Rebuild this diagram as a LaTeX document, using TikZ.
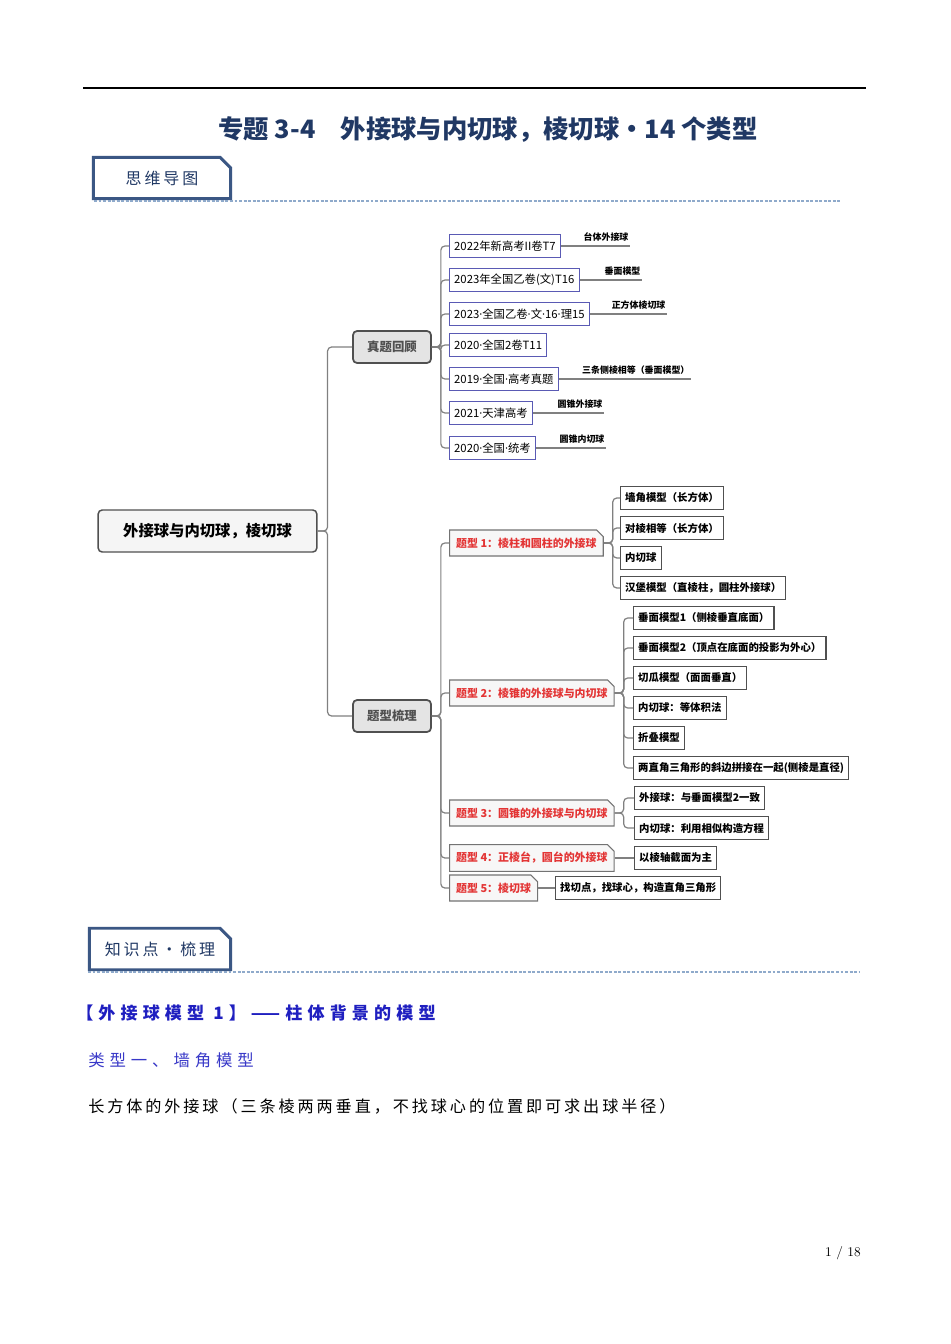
\documentclass[tikz,border=0pt]{standalone}
\usepackage{fontspec}
\newfontfamily\cjk{Noto Sans CJK SC}
\newfontfamily\latn{Noto Sans}
\newfontfamily\cjkwide[LetterSpace=30]{Noto Sans CJK SC}
\newfontfamily\cjkmid[LetterSpace=18]{Noto Sans CJK SC}
\usetikzlibrary{shapes.misc}

\definecolor{navy}{HTML}{203864}
\definecolor{secline}{HTML}{3B5784}
\definecolor{dashblue}{HTML}{8FAACB}
\definecolor{linegray}{HTML}{808080}
\definecolor{boxgray}{HTML}{505050}
\definecolor{rootfill}{HTML}{F5F5F5}
\definecolor{midfill}{HTML}{E4E4E4}
\definecolor{exampurple}{HTML}{5A5AB4}
\definecolor{typered}{HTML}{E33535}
\definecolor{typefill}{HTML}{F7F7F7}
\definecolor{headblue}{HTML}{1F1FC0}
\definecolor{subblue}{HTML}{3838C8}

\newcommand{\md}{{\latn ·}}

\begin{document}
\begin{tikzpicture}[x=0.75pt, y=-0.75pt,
	conn/.style={draw=linegray, line width=0.9pt, rounded corners=3pt},
	secbox/.style={chamfered rectangle, chamfered rectangle corners=north east, chamfered rectangle xsep=4pt, chamfered rectangle ysep=4pt, draw=secline, line width=2.2pt, inner xsep=1pt, inner ysep=6pt, text=navy, font=\cjkmid\fontsize{12}{14}\selectfont},
	secdash/.style={draw=dashblue, line width=0.8pt, dash pattern=on 2.2pt off 1.2pt},
	rootbox/.style={draw=boxgray, line width=1.1pt, rounded corners=3pt, fill=rootfill, minimum width=164pt, minimum height=31.5pt, font=\cjk\bfseries\fontsize{11.5}{12}\selectfont},
	midbox/.style={draw=boxgray, line width=1.3pt, rounded corners=3pt, fill=midfill, minimum width=58.5pt, minimum height=24pt, text=boxgray, font=\cjk\bfseries\fontsize{9.3}{10}\selectfont},
	exambox/.style={draw=exampurple, line width=0.8pt, fill=white, anchor=west, minimum height=17pt, inner xsep=3.5pt, font=\cjk\fontsize{8.5}{9}\selectfont},
	note/.style={anchor=south east, inner sep=1pt, font=\cjk\bfseries\fontsize{6.7}{7}\selectfont},
	typebox/.style={chamfered rectangle, chamfered rectangle corners=north east, chamfered rectangle xsep=2.5pt, chamfered rectangle ysep=2.5pt, draw=boxgray!80, line width=0.8pt, fill=typefill, anchor=west, minimum height=17.5pt, inner xsep=2.5pt, text=typered, font=\cjk\bfseries\fontsize{8.2}{9}\selectfont},
	leafbox/.style={draw=boxgray, line width=0.8pt, fill=white, anchor=west, minimum height=17.5pt, inner xsep=3.5pt, font=\cjk\bfseries\fontsize{7.8}{8}\selectfont}]
	\useasboundingbox[fill=white] (0,0) rectangle (950,1344);

	% page head
	\draw[line width=1.1pt] (83,88) -- (866,88);
	\node[text=navy, font=\cjk\bfseries\fontsize{19}{22}\selectfont] (title) at (488,130) {专题 3-4\quad 外接球与内切球，棱切球・14 个类型};
	\node[secbox, minimum width=103pt] (mapsec) at (162,178) {思维导图};
	\draw[secdash] (94,201) -- (840,201);

	% mind map
	\node[rootbox] (root) at (207.5,531) {外接球与内切球，棱切球};
	\node[midbox] (zt) at (392,347) {真题回顾};
	\node[midbox] (tx) at (392,716) {题型梳理};

	\node[exambox] (q1) at (449,246) {2022年新高考II卷T7};
	\node[exambox] (q2) at (449,280) {2023年全国乙卷(文)T16};
	\node[exambox] (q3) at (449,314) {2023\md 全国乙卷\md 文\md 16\md 理15};
	\node[exambox] (q4) at (449,345) {2020\md 全国2卷T11};
	\node[exambox] (q5) at (449,379) {2019\md 全国\md 高考真题};
	\node[exambox] (q6) at (449,413) {2021\md 天津高考};
	\node[exambox] (q7) at (449,448) {2020\md 全国\md 统考};

	\node[note] (n1) at (630,243) {台体外接球};
	\node[note] (n2) at (642,277) {垂面模型};
	\node[note] (n3) at (667,311) {正方体棱切球};
	\node[note] (n5) at (691,376) {三条侧棱相等（垂面模型）};
	\node[note] (n6) at (604,410) {圆锥外接球};
	\node[note] (n7) at (606,445) {圆锥内切球};

	\node[typebox] (t1) at (449,543) {题型 1：棱柱和圆柱的外接球};
	\node[typebox] (t2) at (449,693) {题型 2：棱锥的外接球与内切球};
	\node[typebox] (t3) at (449,813) {题型 3：圆锥的外接球与内切球};
	\node[typebox] (t4) at (449,858) {题型 4：正棱台，圆台的外接球};
	\node[typebox] (t5) at (449,888) {题型 5：棱切球};

	\node[leafbox] (a1) at (620,498) {墙角模型（长方体）};
	\node[leafbox] (a2) at (620,528) {对棱相等（长方体）};
	\node[leafbox] (a3) at (620,558) {内切球};
	\node[leafbox] (a4) at (620,588) {汉堡模型（直棱柱，圆柱外接球）};
	\node[leafbox] (b1) at (633,618) {垂面模型1（侧棱垂直底面）};
	\node[leafbox] (b2) at (633,648) {垂面模型2（顶点在底面的投影为外心）};
	\node[leafbox] (b3) at (633,678) {切瓜模型（面面垂直）};
	\node[leafbox] (b4) at (633,708) {内切球：等体积法};
	\node[leafbox] (b5) at (633,738) {折叠模型};
	\node[leafbox] (b6) at (633,768) {两直角三角形的斜边拼接在一起(侧棱是直径)};
	\node[leafbox] (c1) at (634,798) {外接球：与垂面模型2一致};
	\node[leafbox] (c2) at (634,828) {内切球：利用相似构造方程};
	\node[leafbox] (d1) at (634,858) {以棱轴截面为主};
	\node[leafbox] (e1) at (555,888) {找切点，找球心，构造直角三角形};

	% connectors
	\foreach \c in {zt,tx} \draw[conn] (root.east) -- ++(10,0) |- (\c.west);
	\foreach \c in {q1,q2,q3,q4,q5,q6,q7} \draw[conn] (zt.east) -- ++(9,0) |- (\c.west);
	\foreach \c/\n in {q1/n1,q2/n2,q3/n3,q5/n5,q6/n6,q7/n7} \draw[conn] (\c.east) -- (\c.east -| \n.south east);
	\foreach \c in {t1,t2,t3,t4,t5} \draw[conn] (tx.east) -- ++(9,0) |- (\c.west);
	\foreach \c in {a1,a2,a3,a4} \draw[conn] (t1.east) -- ++(9,0) |- (\c.west);
	\foreach \c in {b1,b2,b3,b4,b5,b6} \draw[conn] (t2.east) -- ++(9,0) |- (\c.west);
	\foreach \c in {c1,c2} \draw[conn] (t3.east) -- ++(9,0) |- (\c.west);
	\draw[conn] (t4.east) -- (d1.west);
	\draw[conn] (t5.east) -- (e1.west);

	% knowledge part
	\node[secbox, minimum width=106pt] (knowsec) at (160,949) {知识点・梳理};
	\draw[secdash] (88,972) -- (860,972);
	\node[anchor=west, inner sep=0pt, text=headblue, font=\cjkwide\bfseries\fontsize{12.8}{14}\selectfont] (model1) at (76,1013) {【外接球模型 1】——柱体背景的模型};
	\node[anchor=west, inner sep=0pt, text=subblue, font=\cjkwide\fontsize{12.3}{14}\selectfont] (type1) at (88,1060) {类型一、墙角模型};
	\node[anchor=west, inner sep=0pt, font=\cjkmid\fontsize{12.1}{14}\selectfont] (desc) at (88,1106) {长方体的外接球（三条棱两两垂直，不找球心的位置即可求出球半径）};
	\node[font=\fontsize{10}{12}\selectfont] (page) at (843,1253) {1 / 18};
\end{tikzpicture}
\end{document}
